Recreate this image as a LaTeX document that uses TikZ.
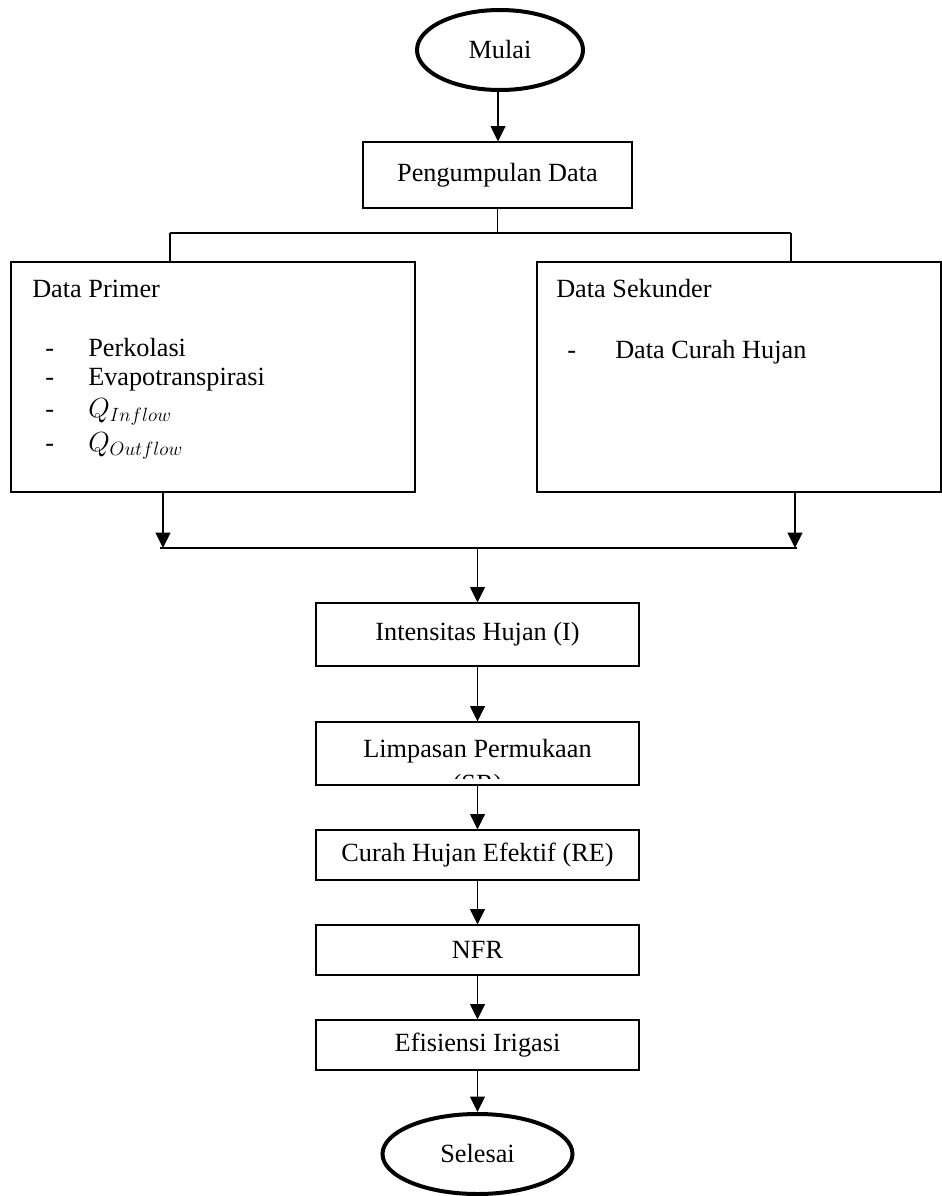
\documentclass[tikz,border=0pt]{standalone}
\usepackage{fontspec}
\setmainfont{Liberation Serif}
\usetikzlibrary{shapes.geometric,arrows.meta}
\def\pxu{0.75pt}
\begin{document}
\begin{tikzpicture}[x=0.75pt,y=-0.75pt,
  every node/.style={font=\fontsize{19.7pt}{23pt}\selectfont, inner sep=0pt},
  boxnode/.style={draw, line width=0.9pt, rectangle, align=center},
  term/.style={draw, ellipse, line width=3pt},
  arr/.style={line width=1.4pt, -{Triangle[length=11.5pt,width=11pt]}},
  conn/.style={line width=0.9pt},
  bar/.style={line width=1.7pt},
  txt/.style={anchor=base west},
  mathtxt/.style={anchor=base west, font=\fontsize{21pt}{24pt}\selectfont}]
\useasboundingbox (0,0) rectangle (942,1196);

% terminals
\node[term, minimum width=166*\pxu, minimum height=80*\pxu] (mulai) at (500,50) {Mulai};
\node[term, minimum width=190*\pxu, minimum height=80*\pxu] (selesai) at (477.5,1154) {Selesai};

% process boxes
\node[boxnode, minimum width=269*\pxu, minimum height=66*\pxu] (peng) at (497.5,175) {Pengumpulan Data};
\node[boxnode, minimum width=404*\pxu, minimum height=230*\pxu] (primer) at (213,377) {};
\node[boxnode, minimum width=404*\pxu, minimum height=230*\pxu] (sekunder) at (739,377) {};
\node[boxnode, minimum width=323*\pxu, minimum height=63*\pxu] (inten) at (477.5,634.5) {Intensitas Hujan (I)};
\node[boxnode, minimum width=323*\pxu, minimum height=63*\pxu] (limp) at (477.5,753.5) {};
\node[boxnode, minimum width=323*\pxu, minimum height=50*\pxu] (curah) at (477.5,855) {Curah Hujan Efektif (RE)};
\node[boxnode, minimum width=323*\pxu, minimum height=50*\pxu] (nfr) at (477.5,950) {NFR};
\node[boxnode, minimum width=323*\pxu, minimum height=50*\pxu] (efis) at (477.5,1045) {Efisiensi Irigasi};

% Limpasan text (second line clipped by the box)
\node[txt, anchor=base] (limptxt) at (477.5,757) {Limpasan Permukaan};
\begin{scope}
\clip (316,722) rectangle (639,778);
\node[txt, anchor=base] (sr) at (477.5,792) {(SR)};
\end{scope}

% texts in data boxes
\node[txt] (tprimer) at (32,297) {Data Primer};
\node[txt] (d1) at (45,356) {-};
\node[txt] (t1) at (88,356) {Perkolasi};
\node[txt] (d2) at (45,385) {-};
\node[txt] (t2) at (88,385) {Evapotranspirasi};
\node[txt] (d3) at (45,417) {-};
\node[mathtxt] (t3) at (88,417) {$Q_{Inflow}$};
\node[txt] (d4) at (45,451) {-};
\node[mathtxt] (t4) at (88,451) {$Q_{Outflow}$};

\node[txt] (tsek) at (556,297) {Data Sekunder};
\node[txt] (d5) at (567,358) {-};
\node[txt] (t5) at (615,358) {Data Curah Hujan};

% connectors top
\draw[arr] (mulai.south -| 498,0) -- (498,0 |- peng.north);
\coordinate (j1) at (497.5,233);
\coordinate (jl) at (170,233);
\coordinate (jr) at (791,233);
\draw[conn] (peng.south) -- (j1);
\draw[conn] (jl) -- (jr);
\draw[conn] (jl) -- (jl |- primer.north);
\draw[conn] (jr) -- (jr |- sekunder.north);

% connectors middle
\coordinate (bl) at (160,548);
\coordinate (br) at (797,548);
\coordinate (al) at (163,548);
\coordinate (ar) at (795,548);
\coordinate (ac) at (477.5,548);
\draw[arr] (al |- primer.south) -- (al);
\draw[arr] (ar |- sekunder.south) -- (ar);
\draw[bar] (bl) -- (br);
\draw[arr] (ac) -- (inten.north);

% connectors chain
\draw[arr] (inten.south) -- (limp.north);
\draw[arr] (limp.south) -- (curah.north);
\draw[arr] (curah.south) -- (nfr.north);
\draw[arr] (nfr.south) -- (efis.north);
\draw[arr] (efis.south) -- (selesai.north);
\end{tikzpicture}
\end{document}
